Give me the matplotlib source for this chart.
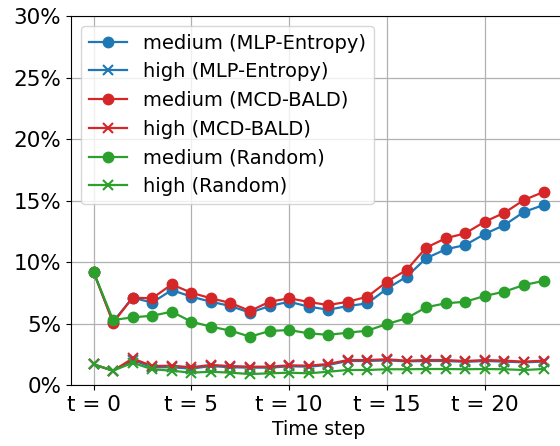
import matplotlib
matplotlib.use("Agg")
import matplotlib.pyplot as plt
import numpy as np

steps = list(range(24))

medium_mlp = [9.2, 5.15, 7.1, 6.7, 7.72, 7.18, 6.77, 6.42, 5.88, 6.42, 6.77, 6.37,
              6.12, 6.42, 6.64, 7.83, 8.8, 10.3, 11.03, 11.38, 12.28, 13.0, 14.07, 14.63]
high_mlp = [1.68, 1.16, 2.03, 1.44, 1.44, 1.33, 1.54, 1.44, 1.41, 1.41, 1.52, 1.49,
            1.63, 1.95, 1.95, 2.0, 1.92, 1.95, 1.95, 1.88, 1.95, 1.9, 1.84, 1.9]
medium_mcd = [9.2, 5.06, 7.1, 7.05, 8.18, 7.5, 7.05, 6.67, 6.02, 6.77, 7.05, 6.75,
              6.5, 6.77, 7.18, 8.4, 9.35, 11.16, 11.93, 12.33, 13.28, 14.0, 15.04, 15.69]
high_mcd = [1.68, 1.16, 2.16, 1.54, 1.57, 1.44, 1.63, 1.54, 1.49, 1.49, 1.6, 1.57,
            1.71, 2.03, 2.03, 2.09, 1.98, 2.03, 2.03, 1.95, 2.03, 1.98, 1.9, 1.98]
medium_rand = [9.2, 5.28, 5.5, 5.63, 5.96, 5.15, 4.74, 4.42, 3.93, 4.39, 4.47, 4.2,
               4.08, 4.25, 4.42, 4.96, 5.42, 6.32, 6.64, 6.77, 7.24, 7.59, 8.13, 8.46]
high_rand = [1.68, 1.16, 1.81, 1.28, 1.16, 1.0, 1.08, 1.0, 0.89, 0.95, 1.0, 0.95,
             1.08, 1.22, 1.22, 1.28, 1.28, 1.3, 1.3, 1.28, 1.3, 1.28, 1.22, 1.3]

xtick_pos = [0, 5, 10, 15, 20]
xtick_labels = ["t = 0", "t = 5", "t = 10", "t = 15", "t = 20"]
ytick_pos = [0, 5, 10, 15, 20, 25, 30]
ytick_labels = ["0%", "5%", "10%", "15%", "20%", "25%", "30%"]

fig = plt.figure(figsize=(5.6, 4.46), dpi=100)
ax = fig.add_axes([71/560, 61/446, 495/560, 369/446])

series = [
    (medium_mlp, "o", "#1f77b4", "medium (MLP-Entropy)"),
    (high_mlp, "x", "#1f77b4", "high (MLP-Entropy)"),
    (medium_mcd, "o", "#d62728", "medium (MCD-BALD)"),
    (high_mcd, "x", "#d62728", "high (MCD-BALD)"),
    (medium_rand, "o", "#2ca02c", "medium (Random)"),
    (high_rand, "x", "#2ca02c", "high (Random)"),
]
for vals, mk, col, lab in series:
    ax.plot(steps, vals, marker=mk, color=col, label=lab, linewidth=1.6,
            markersize=7, markeredgewidth=1.5)

ax.set_xlim(-1.15, 24.15)
ax.set_ylim(0, 30)
ax.set_xticks(xtick_pos)
ax.set_xticklabels(xtick_labels, fontsize=15.5)
ax.set_yticks(ytick_pos)
ax.set_yticklabels(ytick_labels, fontsize=15.5)
ax.set_xlabel("Time step", fontsize=13.6)
ax.grid(True, color="#b0b0b0", linewidth=0.9)
ax.set_axisbelow(True)
ax.legend(loc="upper left", fontsize=14)

fig.savefig("out.png", dpi=100)
